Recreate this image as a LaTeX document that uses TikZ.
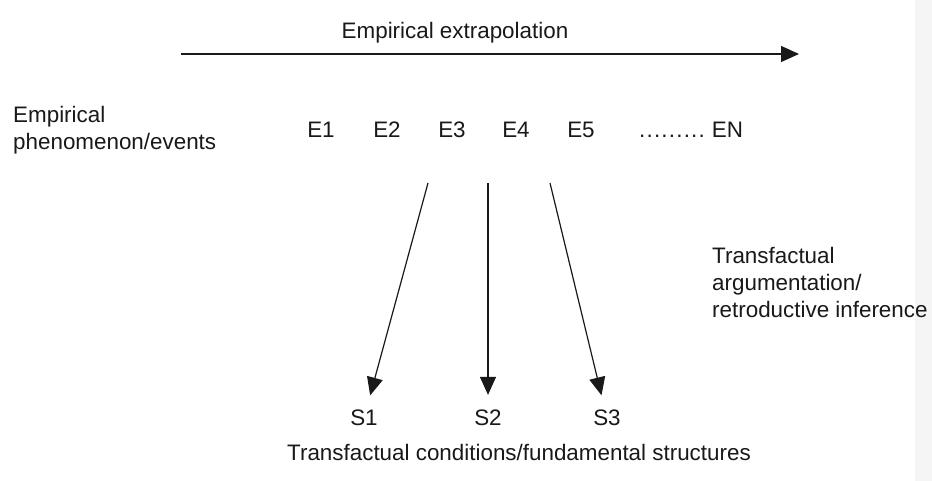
\documentclass[tikz,border=0pt]{standalone}
\usepackage{fontspec}
\setmainfont{Liberation Sans}
\usetikzlibrary{arrows.meta}
\definecolor{edgeGray}{RGB}{245,245,245}
\definecolor{textGray}{RGB}{25,25,25}
\newcommand{\evdots}{.\kern1.2pt.\kern1.2pt.\kern1.2pt.\kern1.2pt.\kern1.2pt.\kern1.2pt.\kern1.2pt.\kern1.2pt.}

\begin{document}
\begin{tikzpicture}[x=1pt, y=-1pt,
    lbl/.style={inner sep=0pt, text=textGray, font=\fontsize{22.4}{27}\selectfont},
    lblL/.style={lbl, anchor=west, align=left},
    infer/.style={-{Triangle[length=18pt,width=16pt]}, line width=1.2pt, draw=textGray}]
            \useasboundingbox (0,0) rectangle (932,481);
            \fill[white] (0,0) rectangle (932,481);
            \fill[edgeGray] (915,0) rectangle (932,481);
            % top arrow
            \coordinate (xstart) at (181,54);
            \coordinate (xend) at (799,54);
            \draw[infer] (xstart) -- (xend);
            \node[lbl] (extra) at (455,33) {Empirical extrapolation};
            % events row
            \node[lblL] (phen) at (13,130) {Empirical\\phenomenon/events};
            \node[lbl] (e1) at (321,130) {E1};
            \node[lbl] (e2) at (387,130) {E2};
            \node[lbl] (e3) at (452,130) {E3};
            \node[lbl] (e4) at (516,130) {E4};
            \node[lbl] (e5) at (581,130) {E5};
            \node[lblL] (en) at (639,130) {\evdots\kern7pt EN};
            % structures row
            \node[lbl] (s1) at (364,418) {S1};
            \node[lbl] (s2) at (488,418) {S2};
            \node[lbl] (s3) at (607,418) {S3};
            \node[lbl] (cond) at (519,452) {Transfactual conditions/fundamental structures};
            \node[lblL] (retro) at (712,282) {Transfactual\\argumentation/\\retroductive inference};
            % retroduction arrows
            \coordinate (r1) at (428,183);
            \coordinate (r2) at (488,183);
            \coordinate (r3) at (550,183);
            \draw[infer, shorten >=15pt] (r1) -- (s1);
            \draw[infer, shorten >=15pt] (r2) -- (s2);
            \draw[infer, shorten >=15pt] (r3) -- (s3);
        \end{tikzpicture}
\end{document}
